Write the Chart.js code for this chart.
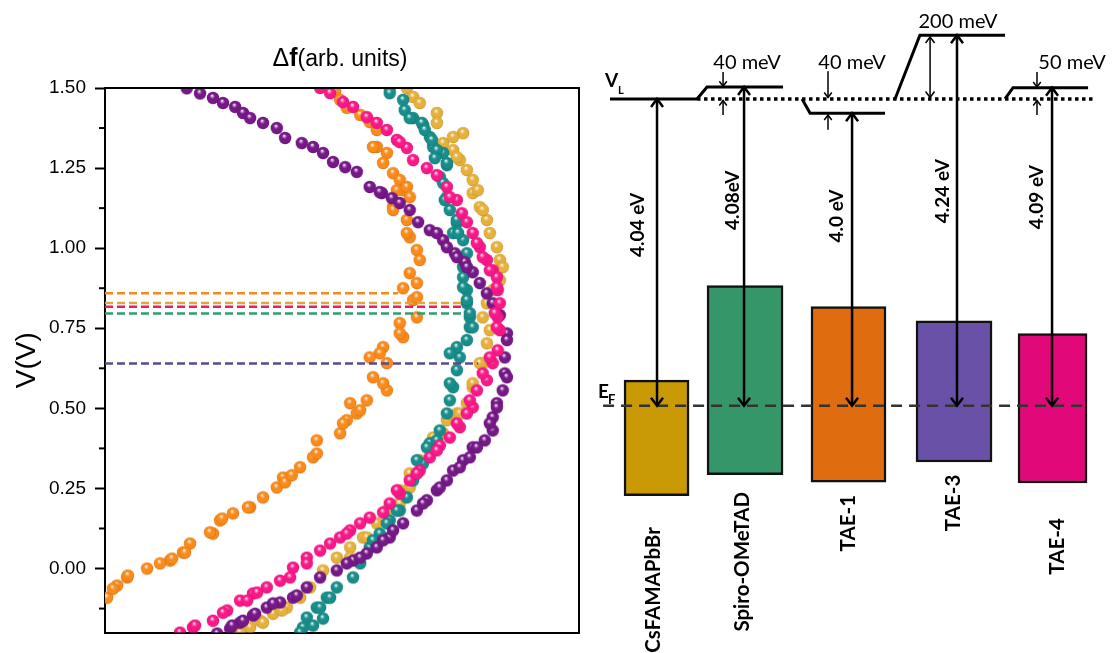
<!DOCTYPE html>
<html>
<head>
<meta charset="utf-8">
<script src="https://cdn.jsdelivr.net/npm/chart.js@4.4.1/dist/chart.umd.min.js"></script>
<style>
  html, body { margin: 0; padding: 0; background: #fff; }
  #wrap { position: relative; width: 1116px; height: 653px; overflow: hidden; }
  canvas { position: absolute; top: 0; }
  #kpfm { left: 0; }
  #levels { left: 590px; }
</style>
</head>
<body>
<div id="wrap">
  <canvas id="kpfm" width="590" height="653"></canvas>
  <canvas id="levels" width="526" height="653"></canvas>
</div>
<script>
// ---------- left panel: KPFM sweeps, [df (arb. units), V] ----------
const tae3Points = [[19.6,1.499],[22.8,1.483],[25.9,1.469],[28.3,1.453],[31.2,1.441],[33.1,1.422],[34.8,1.406],[37.9,1.391],[41.2,1.375],[43.2,1.344],[47.2,1.328],[49.9,1.316],[52.3,1.297],[54.7,1.269],[57.6,1.253],[60.4,1.238],[63.5,1.191],[66.4,1.172],[68.8,1.156],[70.7,1.141],[73.1,1.119],[75.1,1.081],[77.9,1.056],[81.1,1.025],[83.9,0.984],[86.3,0.956],[88.2,0.925],[89.9,0.891],[91.6,0.859],[93.0,0.828],[94.7,0.791],[96.4,0.734],[96.4,0.713],[95.9,0.659],[95.9,0.609],[95.4,0.556],[94.0,0.516],[93.0,0.472],[93.0,0.431],[91.1,0.400],[88.2,0.378],[85.9,0.338],[83.5,0.306],[82.0,0.275],[79.6,0.244],[77.2,0.213],[74.8,0.181],[71.5,0.141],[68.3,0.097],[65.2,0.066],[62.8,0.047],[59.5,0.025],[55.6,-0.006],[51.6,-0.028],[48.4,-0.059],[45.1,-0.091],[42.0,-0.106],[38.8,-0.122],[35.5,-0.147],[32.4,-0.169],[30.0,-0.188],[26.9,-0.203],
    [65.9,1.175],[79.6,1.047],[82.0,1.003],[84.4,0.972],[86.8,0.941],[96.4,0.597],[94.0,0.503],[92.3,0.453],[89.2,0.378],[87.5,0.347],[85.1,0.316],[80.3,0.253],[76.3,0.203],[69.1,0.119],[66.7,0.088],[61.2,0.034],[58.0,0.016],[30.5,-0.178],[33.1,-0.163],[36.0,-0.141],[40.3,-0.109],[46.0,-0.084]];
const tae4Points = [[51.6,1.500],[54.0,1.484],[57.1,1.456],[59.5,1.441],[62.8,1.409],[65.2,1.391],[67.6,1.369],[70.0,1.338],[72.4,1.313],[73.9,1.275],[77.2,1.250],[79.6,1.228],[82.0,1.191],[84.4,1.150],[85.6,1.109],[86.8,1.081],[88.2,1.047],[89.9,1.003],[91.6,0.963],[93.0,0.931],[94.0,0.909],[94.2,0.869],[94.7,0.828],[94.2,0.784],[94.7,0.744],[94.2,0.681],[93.0,0.641],[91.6,0.588],[89.2,0.556],[88.2,0.503],[86.8,0.484],[85.1,0.441],[82.7,0.409],[80.3,0.384],[77.9,0.347],[75.5,0.306],[73.1,0.275],[70.7,0.234],[68.3,0.203],[66.7,0.175],[63.5,0.159],[61.2,0.141],[58.8,0.119],[56.4,0.097],[54.0,0.078],[51.6,0.056],[48.4,0.034],[45.1,0.003],[42.0,-0.038],[38.8,-0.059],[35.5,-0.078],[32.4,-0.100],[29.3,-0.131],[25.9,-0.163],[21.1,-0.184],[18.0,-0.200],
    [70.7,1.331],[82.7,1.159],[89.2,1.016],[90.6,0.972],[92.3,0.931],[94.0,0.878],[93.5,0.797],[94.0,0.753],[92.3,0.659],[90.6,0.609],[87.5,0.525],[84.4,0.453],[79.6,0.369],[74.8,0.297],[70.0,0.244],[58.0,0.109],[21.6,-0.178],[28.3,-0.138],[34.1,-0.100],[36.5,-0.075],[44.4,-0.028],[48.4,0.016]];
const spiroPoints = [[68.3,1.500],[68.3,1.484],[71.5,1.463],[71.9,1.431],[73.9,1.406],[76.3,1.384],[77.9,1.347],[78.7,1.316],[81.1,1.297],[82.0,1.259],[80.3,1.222],[82.0,1.159],[82.7,1.119],[84.4,1.078],[83.5,1.047],[85.9,1.025],[86.8,0.984],[85.9,0.941],[85.9,0.909],[86.8,0.869],[86.8,0.828],[87.5,0.784],[87.5,0.753],[86.8,0.713],[85.1,0.659],[84.4,0.619],[83.5,0.566],[82.7,0.525],[82.0,0.484],[80.3,0.431],[77.9,0.391],[76.3,0.328],[73.9,0.275],[72.4,0.222],[70.7,0.181],[68.3,0.150],[65.9,0.109],[63.5,0.066],[61.2,0.016],[59.5,-0.028],[55.6,-0.059],[53.2,-0.091],[50.8,-0.122],[48.4,-0.153],[47.5,-0.184],[46.8,-0.200],
    [73.1,1.406],[76.0,1.391],[76.7,1.369],[78.4,1.338],[79.6,1.306],[79.1,1.281],[82.0,1.266],[81.1,1.203],[81.5,1.150],[84.4,1.088],[84.7,1.047],[85.9,0.878],[86.8,0.838],[87.5,0.797],[88.2,0.753],[84.4,0.691],[82.7,0.672],[82.7,0.578],[79.6,0.400],[77.2,0.378],[74.8,0.338],[70.0,0.181],[67.6,0.141],[64.3,0.088],[54.0,-0.091],[51.6,-0.122],[49.9,-0.178],[52.3,-0.156]];
const csPoints = [[72.4,1.500],[73.9,1.472],[75.5,1.453],[79.6,1.422],[79.6,1.391],[85.9,1.359],[81.1,1.328],[83.5,1.306],[85.1,1.275],[86.8,1.244],[88.2,1.213],[88.2,1.172],[89.9,1.128],[91.6,1.088],[92.3,1.047],[94.0,1.003],[94.7,0.963],[94.0,0.922],[93.0,0.869],[91.6,0.828],[90.6,0.784],[92.3,0.744],[91.6,0.703],[90.6,0.641],[88.2,0.566],[86.8,0.516],[84.4,0.484],[82.0,0.463],[78.7,0.409],[75.5,0.338],[73.1,0.297],[70.7,0.244],[67.6,0.181],[65.2,0.141],[61.9,0.097],[58.8,0.066],[55.6,0.034],[52.3,-0.006],[49.2,-0.059],[46.8,-0.091],[43.6,-0.122],[40.3,-0.141],[37.2,-0.163],[34.8,-0.184],[32.4,-0.200],
    [95.4,0.941],[94.7,0.900],[90.6,1.119],[89.4,1.181],[83.5,1.347],[84.4,1.284],[89.9,0.641],[88.2,0.578],[85.1,0.484],[81.1,0.422],[78.7,0.378],[74.8,0.297],[73.1,0.253],[70.7,0.203],[62.8,0.097],[58.8,0.034],[37.9,-0.169],[42.4,-0.131]];
const tae1Points = [[55.2,1.488],[56.4,1.463],[58.0,1.438],[61.2,1.416],[63.5,1.394],[65.2,1.316],[67.6,1.297],[66.7,1.266],[69.1,1.234],[70.7,1.213],[71.5,1.181],[69.1,1.128],[72.4,1.088],[73.1,1.034],[74.8,0.994],[75.5,0.963],[73.1,0.922],[74.8,0.891],[71.5,0.875],[73.9,0.838],[74.8,0.784],[70.7,0.766],[71.5,0.722],[66.7,0.691],[67.6,0.641],[64.3,0.597],[67.6,0.556],[62.8,0.525],[58.8,0.516],[60.4,0.484],[58.0,0.463],[56.4,0.422],[50.8,0.400],[49.9,0.347],[46.8,0.316],[42.7,0.284],[41.2,0.253],[37.9,0.222],[34.8,0.191],[30.7,0.172],[27.6,0.150],[25.9,0.109],[20.4,0.078],[18.7,0.050],[15.6,0.025],[13.2,0.016],[10.1,0.000],[5.3,-0.028],[2.9,-0.053],[0.5,-0.091],
    [65.2,1.369],[64.3,1.316],[70.0,1.181],[72.4,1.191],[73.1,1.159],[69.1,1.119],[72.4,1.047],[74.8,0.847],[70.7,0.734],[65.9,0.672],[63.5,0.659],[66.7,0.578],[61.2,0.494],[57.1,0.453],[50.8,0.359],[1.9,-0.063],[5.5,-0.022],[16.1,0.031],[19.2,0.050],[25.2,0.113],[28.1,0.156],[34.3,0.191],[43.2,0.269],[44.8,0.291]];

// dashed onset lines: level (V) and where each one stops (df)
const onsetNames = ['TAE-1', 'CsFAMAPbBr', 'TAE-4', 'Spiro-OMeTAD', 'TAE-3'];
const onsetLevels = [0.859, 0.829, 0.817, 0.796, 0.640];
const onsetEnds = [70.3, 85.6, 85.6, 85.6, 89.5];

const yTickValues = [0, 0.25, 0.5, 0.75, 1.0, 1.25, 1.5];
const yMinorValues = [-0.125, 0.125, 0.375, 0.625, 0.875, 1.125, 1.375];

// ---------- right panel: energy level schematic (units above E_F) ----------
const materials = ['CsFAMAPbBr', 'Spiro-OMeTAD', 'TAE-1', 'TAE-3', 'TAE-4'];
const workFunction = ['4.04 eV', '4.08eV', '4.0 eV', '4.24 eV', '4.09 eV'];
const offsetText = ['', '40 meV', '40 meV', '200 meV', '50 meV'];
const vacuumRef = 4.09;
const vacuumLevel = [4.09, 4.25, 3.90, 4.94, 4.24];
const bandTop = [0.34, 1.60, 1.32, 1.13, 0.96];
const bandBottom = [-1.20, -0.92, -1.02, -0.75, -1.03];
const barPos = [0, 0.894, 1.939, 3.005, 4.0];
const levelStart = [-0.47, 0.409, 1.47, 2.409, 3.52];
const levelBend = [-0.47, 0.51, 1.551, 2.66, 3.601];
const levelEnd = [0.409, 1.278, 2.308, 3.52, 4.359];
const arrowPos = [0.005, 0.884, 1.975, 3.035, 3.995];
// small offset arrows: [x, from, to] (head at "to")
const offsetArrows = [[0.672, 4.45, 4.26], [0.672, 3.876, 4.07], [1.732, 4.46, 4.11], [1.732, 3.68, 3.876], [3.843, 4.45, 4.25], [3.843, 3.876, 4.07]];
const bigOffsetArrow = [2.763, 4.11, 4.915];
const dottedSpan = [0.409, 4.429];
const fermiSpan = [-0.54, 4.308];

// label anchors in diagram units
const offsetLabelX = [0, 0.914, 1.975, 3.045, 4.197];
const offsetLabelY = [0, 4.57, 4.57, 5.12, 4.57];
const wfLabelX = [-0.187, 0.773, 1.823, 2.894, 3.843];
const wfLabelY = [2.41, 2.74, 2.53, 2.86, 2.78];
const nameLabelX = [-0.035, 0.864, 1.934, 2.995, 4.045];
const nameLabelTop = [-1.62, -1.15, -1.19, -0.92, -1.50];

// ---------- styles ----------
const curveColors = { 'TAE-3': '#761888', 'TAE-4': '#fa1888', 'Spiro-OMeTAD': '#178e8b', 'CsFAMAPbBr': '#e6b03a', 'TAE-1': '#fa8a1a' };
const onsetColors = ['#f08c1e', '#e3a536', '#e2206c', '#2e9e70', '#5c4a8c'];
const barColors = ['#c99a06', '#35966a', '#e06c10', '#6a51a8', '#e1087a'];
const barWidthsPx = [65, 76, 75, 76, 69];

function hexRgb(h) { return [1, 3, 5].map(i => parseInt(h.substr(i, 2), 16)); }
function mix(h, t, k) {
    const a = hexRgb(h), b = hexRgb(t);
    return 'rgb(' + a.map((v, i) => Math.round(v + (b[i] - v) * k)).join(',') + ')';
}
function makeBall(color) {
    const r = 6.2, size = 14, c = document.createElement('canvas');
    c.width = c.height = size;
    const g = c.getContext('2d');
    const m = size / 2;
    const grad = g.createRadialGradient(m - 1, m - 2.4, 0.2, m, m, r);
    grad.addColorStop(0, '#ffffff');
    grad.addColorStop(0.16, mix(color, '#ffffff', 0.5));
    grad.addColorStop(0.4, color);
    grad.addColorStop(0.85, color);
    grad.addColorStop(1, mix(color, '#000000', 0.2));
    g.fillStyle = grad;
    g.beginPath();
    g.arc(m, m, r, 0, Math.PI * 2);
    g.fill();
    return c;
}

const toXY = pts => pts.map(p => ({ x: p[0], y: p[1] }));

const onsetSets = onsetLevels.map((v, i) => ({
    type: 'line',
    label: onsetNames[i] + ' onset',
    data: [{ x: 0, y: v }, { x: onsetEnds[i], y: v }],
    borderColor: onsetColors[i],
    borderWidth: 2.5,
    borderDash: [8, 4],
    pointRadius: 0,
    fill: false
}));

const curveSets = [
    ['TAE-4', tae4Points], ['TAE-3', tae3Points], ['TAE-1', tae1Points],
    ['Spiro-OMeTAD', spiroPoints], ['CsFAMAPbBr', csPoints]
].map(([name, pts]) => ({
    label: name,
    data: toXY(pts),
    pointStyle: makeBall(curveColors[name]),
    pointRadius: 6,
    showLine: false
}));

const kpfmDecor = {
    id: 'kpfmDecor',
    afterDraw(chart) {
        const { ctx, chartArea: a, scales: { y } } = chart;
        ctx.save();
        ctx.strokeStyle = '#000';
        ctx.lineWidth = 2;
        ctx.beginPath();
        ctx.moveTo(a.left, a.top);
        ctx.lineTo(a.right, a.top);
        ctx.lineTo(a.right, a.bottom);
        ctx.stroke();
        yMinorValues.forEach(v => {
            const py = y.getPixelForValue(v);
            ctx.beginPath();
            ctx.moveTo(a.left - 6, py);
            ctx.lineTo(a.left, py);
            ctx.stroke();
        });
        // title
        const parts = [['\u0394', '25px "Liberation Sans"'], ['f', 'bold 25px "Liberation Sans"'], ['(arb. units)', '23px "Liberation Sans"']];
        let total = 0;
        parts.forEach(p => { ctx.font = p[1]; total += ctx.measureText(p[0]).width; });
        let px = (a.left + a.right) / 2 - total / 2 - 2;
        ctx.fillStyle = '#000';
        ctx.textBaseline = 'alphabetic';
        parts.forEach(p => { ctx.font = p[1]; ctx.fillText(p[0], px, 66); px += ctx.measureText(p[0]).width; });
        ctx.restore();
    }
};

new Chart(document.getElementById('kpfm'), {
    type: 'scatter',
    data: { datasets: [...onsetSets, ...curveSets] },
    options: {
        responsive: false,
        animation: false,
        devicePixelRatio: 1,
        layout: { padding: { top: 88, right: 11, left: 0, bottom: 0 } },
        plugins: { legend: { display: false }, tooltip: { enabled: false } },
        scales: {
            x: {
                type: 'linear', min: 0, max: 113.7,
                ticks: { display: false },
                grid: { display: false },
                border: { color: '#000', width: 2 },
                afterFit: s => { s.height = 20; }
            },
            y: {
                type: 'linear', min: -0.2, max: 1.5,
                afterBuildTicks: s => { s.ticks = yTickValues.map(v => ({ value: v })); },
                ticks: { color: '#000', padding: 9, font: { family: 'Liberation Sans', size: 19 }, callback: v => v.toFixed(2) },
                grid: { display: true, drawOnChartArea: false, drawTicks: true, tickLength: 10, tickColor: '#000', tickWidth: 2 },
                border: { color: '#000', width: 2 },
                title: { display: true, text: 'V(V)', color: '#000', font: { family: 'Liberation Sans', size: 28 }, padding: { top: 10, bottom: 0 } },
                afterFit: s => { s.width = 105; }
            }
        }
    },
    plugins: [kpfmDecor]
});

// ---------- right panel ----------
const lineSet = (pts, opts) => Object.assign({
    type: 'line', data: pts, borderColor: '#000', borderWidth: 3,
    pointRadius: 0, fill: false, tension: 0, order: 1
}, opts);

const barSets = materials.map((m, i) => ({
    type: 'bar',
    label: m,
    data: [{ x: barPos[i], y: [bandBottom[i], bandTop[i]] }],
    backgroundColor: barColors[i],
    borderColor: '#111',
    borderWidth: 2.5,
    borderSkipped: false,
    barThickness: barWidthsPx[i],
    grouped: false,
    order: 5
}));

const levelSets = materials.map((m, i) => lineSet([
    { x: levelStart[i], y: vacuumRef },
    { x: levelBend[i], y: vacuumLevel[i] },
    { x: levelEnd[i], y: vacuumLevel[i] }
], { label: m + ' VL', borderWidth: 3, order: 2 }));

const dottedSet = lineSet([{ x: dottedSpan[0], y: vacuumRef }, { x: dottedSpan[1], y: vacuumRef }],
    { label: 'VL', borderWidth: 3.5, borderDash: [3.5, 3.5], order: 3 });
const fermiSet = lineSet([{ x: fermiSpan[0], y: 0 }, { x: fermiSpan[1], y: 0 }],
    { label: 'EF', borderColor: '#333', borderWidth: 2.5, borderDash: [11, 7], order: 3 });

const bigArrows = materials.map((m, i) => lineSet([{ x: arrowPos[i], y: vacuumLevel[i] }, { x: arrowPos[i], y: 0 }],
    { label: m + ' WF', borderWidth: 2.5, heads: ['start', 'end'], headSize: 8, order: 0 }));
const smallArrows = offsetArrows.map(a => lineSet([{ x: a[0], y: a[1] }, { x: a[0], y: a[2] }],
    { borderWidth: 1.5, heads: ['end'], headSize: 5, order: 0 }));
const tae3Arrow = lineSet([{ x: bigOffsetArrow[0], y: bigOffsetArrow[1] }, { x: bigOffsetArrow[0], y: bigOffsetArrow[2] }],
    { borderWidth: 1.5, heads: ['start', 'end'], headSize: 6, order: 0 });

const arrowHeads = {
    id: 'arrowHeads',
    afterDatasetsDraw(chart) {
        const ctx = chart.ctx;
        chart.data.datasets.forEach((ds, i) => {
            if (!ds.heads) return;
            const pts = chart.getDatasetMeta(i).data;
            const s = ds.headSize;
            const draw = (tip, from) => {
                const dx = tip.x - from.x, dy = tip.y - from.y;
                const len = Math.hypot(dx, dy) || 1;
                const ux = dx / len, uy = dy / len;
                ctx.beginPath();
                ctx.moveTo(tip.x - ux * s - uy * s * 0.75, tip.y - uy * s + ux * s * 0.75);
                ctx.lineTo(tip.x, tip.y);
                ctx.lineTo(tip.x - ux * s + uy * s * 0.75, tip.y - uy * s - ux * s * 0.75);
                ctx.stroke();
            };
            ctx.save();
            ctx.strokeStyle = ds.borderColor;
            ctx.lineWidth = ds.borderWidth;
            if (ds.heads.includes('end')) draw(pts[pts.length - 1], pts[pts.length - 2]);
            if (ds.heads.includes('start')) draw(pts[0], pts[1]);
            ctx.restore();
        });
    }
};

const diagramText = {
    id: 'diagramText',
    afterDraw(chart) {
        const { ctx, scales: { x, y } } = chart;
        ctx.save();
        ctx.fillStyle = '#000';
        ctx.font = '20px Lato';
        ctx.textAlign = 'center';
        ctx.textBaseline = 'middle';
        offsetText.forEach((t, i) => {
            if (t) ctx.fillText(t, x.getPixelForValue(offsetLabelX[i]), y.getPixelForValue(offsetLabelY[i]));
        });
        const rot = (t, px, py, align) => {
            ctx.save();
            ctx.translate(px, py);
            ctx.rotate(-Math.PI / 2);
            ctx.textAlign = align;
            ctx.fillText(t, 0, 0);
            ctx.restore();
        };
        ctx.font = 'bold 19px Lato';
        workFunction.forEach((t, i) => rot(t, x.getPixelForValue(wfLabelX[i]), y.getPixelForValue(wfLabelY[i]), 'center'));
        ctx.font = 'bold 20.5px Lato';
        materials.forEach((t, i) => rot(t, x.getPixelForValue(nameLabelX[i]), y.getPixelForValue(nameLabelTop[i]), 'right'));
        // V_L and E_F
        ctx.textAlign = 'left';
        ctx.textBaseline = 'alphabetic';
        const vx = x.getPixelForValue(-0.52), vy = y.getPixelForValue(4.25);
        ctx.font = 'bold 19px Lato';
        ctx.fillText('V', vx, vy);
        ctx.font = 'bold 11px Lato';
        ctx.fillText('L', vx + 13, vy + 7);
        const ex = x.getPixelForValue(-0.59), ey = y.getPixelForValue(0.10);
        ctx.font = 'bold 19px Lato';
        ctx.fillText('E', ex, ey);
        ctx.font = 'bold 13px Lato';
        ctx.fillText('F', ex + 10, ey + 6);
        ctx.restore();
    }
};

new Chart(document.getElementById('levels'), {
    type: 'bar',
    data: { datasets: [...bigArrows, ...smallArrows, tae3Arrow, ...levelSets, dottedSet, fermiSet, ...barSets] },
    options: {
        responsive: false,
        animation: false,
        devicePixelRatio: 1,
        layout: { padding: 0 },
        plugins: { legend: { display: false }, tooltip: { enabled: false } },
        scales: {
            x: { type: 'linear', display: false, min: -0.672, max: 4.641, offset: false },
            y: { type: 'linear', display: false, min: -3.297, max: 5.409, beginAtZero: false }
        }
    },
    plugins: [arrowHeads, diagramText]
});
</script>
</body>
</html>
